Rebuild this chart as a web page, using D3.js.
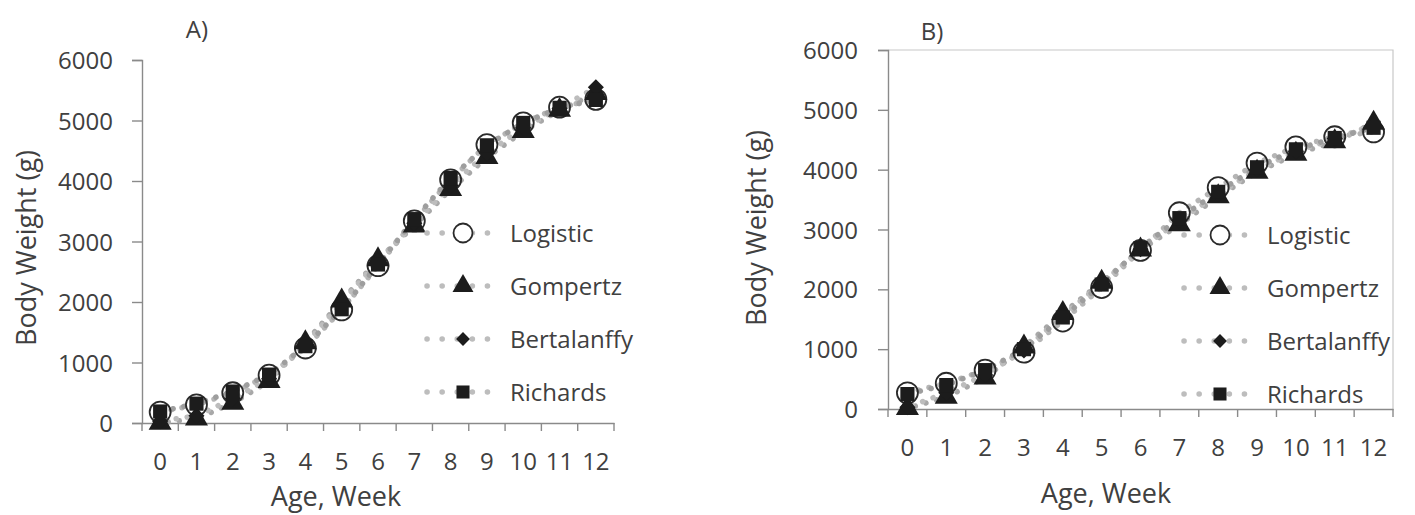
<!DOCTYPE html>
<html>
<head>
<meta charset="utf-8">
<script src="https://cdn.jsdelivr.net/npm/d3@7"></script>
<style>
  body { margin: 0; background: #fff; }
  svg { display: block; font-family: "Open Sans", sans-serif; }
  .tick text { fill: #404040; }
</style>
</head>
<body>
<svg id="chart" width="1415" height="515"></svg>
<script>
// weeks on the x axis
var weeks = [0, 1, 2, 3, 4, 5, 6, 7, 8, 9, 10, 11, 12];
var yTicks = [0, 1000, 2000, 3000, 4000, 5000, 6000];
var models = ["Logistic", "Gompertz", "Bertalanffy", "Richards"];

// panel A body weight (g)
var logisticA    = [180, 300, 500, 790, 1240, 1870, 2600, 3340, 4020, 4600, 4960, 5220, 5350];
var gompertzA    = [0, 70, 330, 690, 1330, 2020, 2700, 3260, 3860, 4390, 4820, 5170, 5450];
var bertalanffyA = [30, 120, 400, 730, 1300, 1990, 2680, 3300, 3920, 4460, 4880, 5200, 5550];
var richardsA    = [190, 320, 520, 800, 1270, 1880, 2620, 3370, 4050, 4590, 4960, 5210, 5340];

// panel B
var logisticB    = [270, 430, 650, 950, 1470, 2030, 2650, 3280, 3700, 4110, 4380, 4550, 4630];
var gompertzB    = [10, 200, 520, 1040, 1600, 2120, 2660, 3080, 3550, 3960, 4260, 4470, 4780];
var bertalanffyB = [30, 270, 570, 980, 1560, 2100, 2670, 3150, 3590, 4000, 4300, 4520, 4750];
var richardsB    = [250, 400, 650, 1000, 1530, 2080, 2690, 3190, 3630, 4040, 4340, 4530, 4700];

var svg = d3.select("#chart");

function drawPanel(p) {
  var x = d3.scaleBand().domain(weeks).range([p.left, p.right]);
  var y = d3.scaleLinear().domain([0, 6000]).range([p.bottom, p.top]);
  var g = svg.append("g");

  if (p.frame) {
    g.append("path")
      .attr("d", "M" + p.left + "," + p.top + "H" + p.right + "V" + p.bottom)
      .attr("fill", "none").attr("stroke", "#c8c8c8").attr("stroke-width", 1.2);
  }

  var yAxis = g.append("g")
    .attr("transform", "translate(" + p.left + ",0)")
    .call(d3.axisLeft(y).tickValues(yTicks).tickSize(10).tickPadding(p.yPad).tickFormat(d3.format("d")));

  // category axis, ticks sit between the weeks
  var xAxis = g.append("g")
    .attr("transform", "translate(0," + p.bottom + ")")
    .call(d3.axisBottom(x).tickSize(0).tickPadding(p.xPad));
  xAxis.selectAll(".bound")
    .data(d3.range(weeks.length + 1))
    .enter().append("line")
    .attr("x1", function(i) { return p.left + i * x.step(); })
    .attr("x2", function(i) { return p.left + i * x.step(); })
    .attr("y1", 0).attr("y2", 8);

  [yAxis, xAxis].forEach(function(a) {
    a.attr("font-family", "Open Sans, sans-serif");
    a.selectAll("path, line").attr("stroke", "#8a8a8a").attr("stroke-width", 1.4);
    a.selectAll("text").attr("font-size", 24).attr("fill", "#404040");
  });
  yAxis.selectAll("text").attr("dy", "0.36em");

  var cx = function(i) { return x(weeks[i]) + x.bandwidth() / 2; };
  var line = d3.line().x(function(d, i) { return cx(i); }).y(function(d) { return y(d); });
  var shades = ["#b5b5b5", "#a8a8a8", "#bdbdbd", "#9e9e9e"];

  p.series.forEach(function(s, k) {
    g.append("path").datum(s)
      .attr("d", line)
      .attr("fill", "none")
      .attr("stroke", shades[k])
      .attr("stroke-width", 5.5)
      .attr("stroke-linecap", "round")
      .attr("stroke-dasharray", "0.1 11")
      .attr("stroke-dashoffset", k * 3);
  });

  // diamond = square turned 45 degrees
  var symbols = [null, d3.symbolTriangle, d3.symbolSquare, d3.symbolSquare];
  var turns = [0, 0, 45, 0];
  var sizes = [0, 230, 130, 200];

  p.series.forEach(function(s, k) {
    var sel = g.selectAll(".m" + k).data(s).enter();
    if (k === 0) {
      sel.append("circle")
        .attr("cx", function(d, i) { return cx(i); })
        .attr("cy", function(d) { return y(d); })
        .attr("r", 10.5)
        .attr("fill", "none").attr("stroke", "#2a2a2a").attr("stroke-width", 1.8);
    } else {
      sel.append("path")
        .attr("d", d3.symbol().type(symbols[k]).size(sizes[k]))
        .attr("transform", function(d, i) { return "translate(" + cx(i) + "," + y(d) + ") rotate(" + turns[k] + ")"; })
        .attr("fill", "#1c1c1c");
    }
  });

  // legend
  models.forEach(function(m, k) {
    var ly = p.legendY + k * 53;
    var lg = g.append("g");
    lg.append("line")
      .attr("x1", p.legendX - 36).attr("x2", p.legendX + 38)
      .attr("y1", ly).attr("y2", ly)
      .attr("stroke", "#bdbdbd").attr("stroke-width", 5.5)
      .attr("stroke-linecap", "round").attr("stroke-dasharray", "0.1 15");
    if (k === 0) {
      lg.append("circle").attr("cx", p.legendX).attr("cy", ly).attr("r", 9.5)
        .attr("fill", "#fff").attr("stroke", "#2a2a2a").attr("stroke-width", 1.8);
    } else {
      lg.append("path")
        .attr("d", d3.symbol().type(symbols[k]).size([0, 190, 95, 170][k]))
        .attr("transform", "translate(" + p.legendX + "," + ly + ") rotate(" + turns[k] + ")")
        .attr("fill", "#1c1c1c");
    }
    lg.append("text")
      .attr("x", p.legendX + 47).attr("y", ly).attr("dy", "0.36em")
      .attr("font-size", 24).attr("fill", "#404040")
      .text(m);
  });

  g.append("text")
    .attr("x", p.titleX).attr("y", p.titleY)
    .attr("text-anchor", "middle").attr("font-size", 24).attr("fill", "#404040")
    .text(p.title);

  g.append("text")
    .attr("x", p.xTitleX).attr("y", p.xTitleY)
    .attr("text-anchor", "middle").attr("font-size", 27).attr("fill", "#404040")
    .text("Age, Week");

  g.append("text")
    .attr("transform", "translate(" + p.yTitleX + "," + p.yTitleY + ") rotate(-90)")
    .attr("text-anchor", "middle").attr("font-size", 27).attr("fill", "#404040")
    .text("Body Weight (g)");
}

drawPanel({
  title: "A)", titleX: 197, titleY: 38,
  left: 142, right: 614, top: 60, bottom: 423,
  yPad: 19, xPad: 30, frame: false,
  legendX: 463, legendY: 233,
  xTitleX: 336, xTitleY: 506,
  yTitleX: 36, yTitleY: 248,
  series: [logisticA, gompertzA, bertalanffyA, richardsA]
});

drawPanel({
  title: "B)", titleX: 932, titleY: 40,
  left: 888, right: 1393, top: 50, bottom: 409,
  yPad: 20, xPad: 30, frame: true,
  legendX: 1220, legendY: 235,
  xTitleX: 1106, xTitleY: 503,
  yTitleX: 766, yTitleY: 228,
  series: [logisticB, gompertzB, bertalanffyB, richardsB]
});
</script>
</body>
</html>
